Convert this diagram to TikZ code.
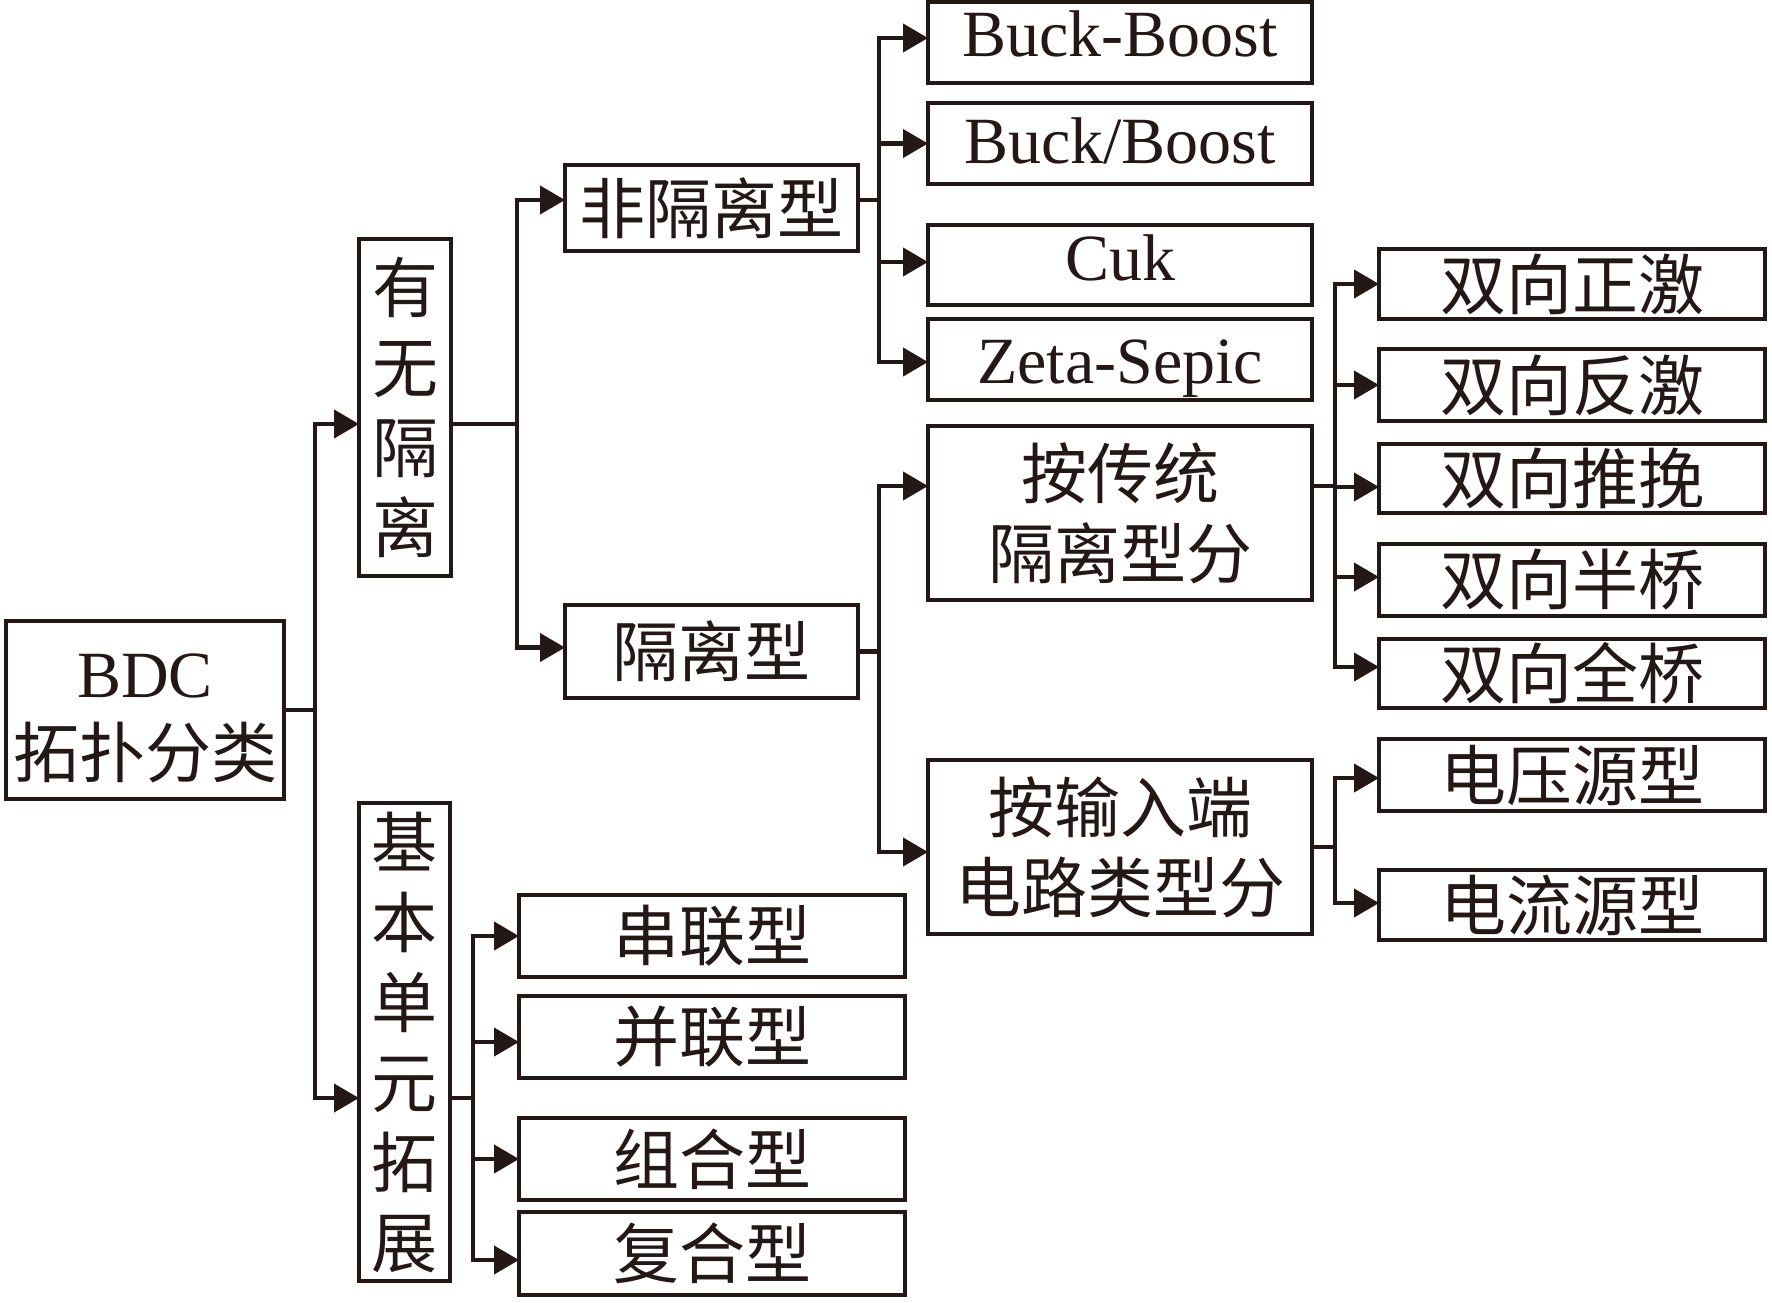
\documentclass[tikz,border=0pt]{standalone}
\usepackage{fontspec}
\setmainfont{Liberation Serif}
\newfontfamily\cjk{Noto Sans CJK SC}
\usetikzlibrary{arrows.meta}
\definecolor{ink}{RGB}{35,24,21}
\newcommand\cjkbig{\cjk\fontsize{66}{80}\selectfont}
\newcommand\latbig{\rmfamily\fontsize{66}{80}\selectfont}
\begin{document}
\begin{tikzpicture}[x=1pt,y=-1pt,
  box/.style={draw=ink, line width=4.2pt, inner sep=0pt, outer sep=0pt, align=center, text=ink, font=\cjkbig},
  latbox/.style={box, font=\latbig, minimum width=384pt, text depth=0pt},
  ln/.style={draw=ink, line width=4.2pt},
  arr/.style={draw=ink, line width=4.2pt, -{Triangle[length=25pt,width=28pt]}}
]
\fill[white] (0,0) rectangle (1772,1302);
\useasboundingbox (0,0) rectangle (1772,1302);

% level 0
\node[box, minimum width=278pt, minimum height=178pt] (bdc) at (145,710) {{\latbig\rule{0pt}{60pt}BDC}\\拓扑分类};
% level 1
\node[box, minimum width=92pt, minimum height=337pt] (yw) at (405,407.5) {有\\无\\隔\\离};
\node[box, minimum width=91pt, minimum height=478pt] (jb) at (404.5,1042) {基\\本\\单\\元\\拓\\展};
% level 2
\node[box, minimum width=293pt, minimum height=86pt] (fgl) at (711.5,208) {非隔离型};
\node[box, minimum width=293pt, minimum height=93pt] (gl) at (711.5,651.5) {隔离型};
\node[box, minimum width=386pt, minimum height=82pt] (c1) at (712,936) {串联型};
\node[box, minimum width=386pt, minimum height=82pt] (c2) at (712,1037) {并联型};
\node[box, minimum width=386pt, minimum height=82pt] (c3) at (712,1159) {组合型};
\node[box, minimum width=386pt, minimum height=83pt] (c4) at (712,1253.5) {复合型};
% level 3
\node[latbox, minimum height=81pt, text height=27pt] (bb1) at (1120,42.5) {Buck-Boost};
\node[latbox, minimum height=81pt, text height=39pt] (bb2) at (1120,143.5) {Buck/Boost};
\node[latbox, minimum height=80pt, text height=30pt] (cuk) at (1120,265) {Cuk};
\node[latbox, minimum height=81pt, text height=47pt] (zeta) at (1120,359.5) {Zeta-Sepic};
\node[box, minimum width=384pt, minimum height=174pt] (ct) at (1120,513) {按传统\\隔离型分};
\node[box, minimum width=384pt, minimum height=174pt] (sr) at (1120,847) {按输入端\\电路类型分};
% level 4
\node[box, minimum width=386pt, minimum height=70pt] (z1) at (1572,284) {双向正激};
\node[box, minimum width=386pt, minimum height=72pt] (z2) at (1572,385) {双向反激};
\node[box, minimum width=386pt, minimum height=69pt] (z3) at (1572,478.5) {双向推挽};
\node[box, minimum width=386pt, minimum height=72pt] (z4) at (1572,580) {双向半桥};
\node[box, minimum width=386pt, minimum height=69pt] (z5) at (1572,673.5) {双向全桥};
\node[box, minimum width=386pt, minimum height=72pt] (v1) at (1572,775) {电压源型};
\node[box, minimum width=386pt, minimum height=70pt] (v2) at (1572,905) {电流源型};

% junctions
\coordinate (J1) at (315,710);
\coordinate (J2) at (517,424);
\coordinate (J3) at (879,200);
\coordinate (J4) at (879,651.5);
\coordinate (J5) at (1335,486);
\coordinate (J6) at (1335,847);
\coordinate (J7) at (473,1098);

% connectors
\draw[ln] (bdc.east) -- (J1);
\draw[arr] (J1) |- ([yshift=-16.5pt]yw.west);
\draw[arr] (J1) |- ([yshift=-56pt]jb.west);

\draw[ln] ([yshift=-16.5pt]yw.east) -- (J2);
\draw[arr] (J2) |- ([yshift=8pt]fgl.west);
\draw[arr] (J2) |- ([yshift=4pt]gl.west);

\draw[ln] ([yshift=8pt]fgl.east) -- (J3);
\draw[arr] (J3) |- ([yshift=4.5pt]bb1.west);
\draw[arr] (J3) |- (bb2.west);
\draw[arr] (J3) |- ([yshift=3pt]cuk.west);
\draw[arr] (J3) |- ([yshift=-2.5pt]zeta.west);

\draw[ln] (gl.east) -- (J4);
\draw[arr] (J4) |- ([yshift=27pt]ct.west);
\draw[arr] (J4) |- ([yshift=-5pt]sr.west);

\draw[ln] ([yshift=27pt]ct.east) -- (J5);
\draw[arr] (J5) |- (z1.west);
\draw[arr] (J5) |- (z2.west);
\draw[arr] (J5) |- ([yshift=-8.5pt]z3.west);
\draw[arr] (J5) |- ([yshift=3pt]z4.west);
\draw[arr] (J5) |- ([yshift=6.5pt]z5.west);

\draw[ln] (sr.east) -- (J6);
\draw[arr] (J6) |- ([yshift=-3pt]v1.west);
\draw[arr] (J6) |- ([yshift=2pt]v2.west);

\draw[ln] ([yshift=-56pt]jb.east) -- (J7);
\draw[arr] (J7) |- (c1.west);
\draw[arr] (J7) |- ([yshift=-5pt]c2.west);
\draw[arr] (J7) |- (c3.west);
\draw[arr] (J7) |- ([yshift=-6.5pt]c4.west);
\end{tikzpicture}
\end{document}
